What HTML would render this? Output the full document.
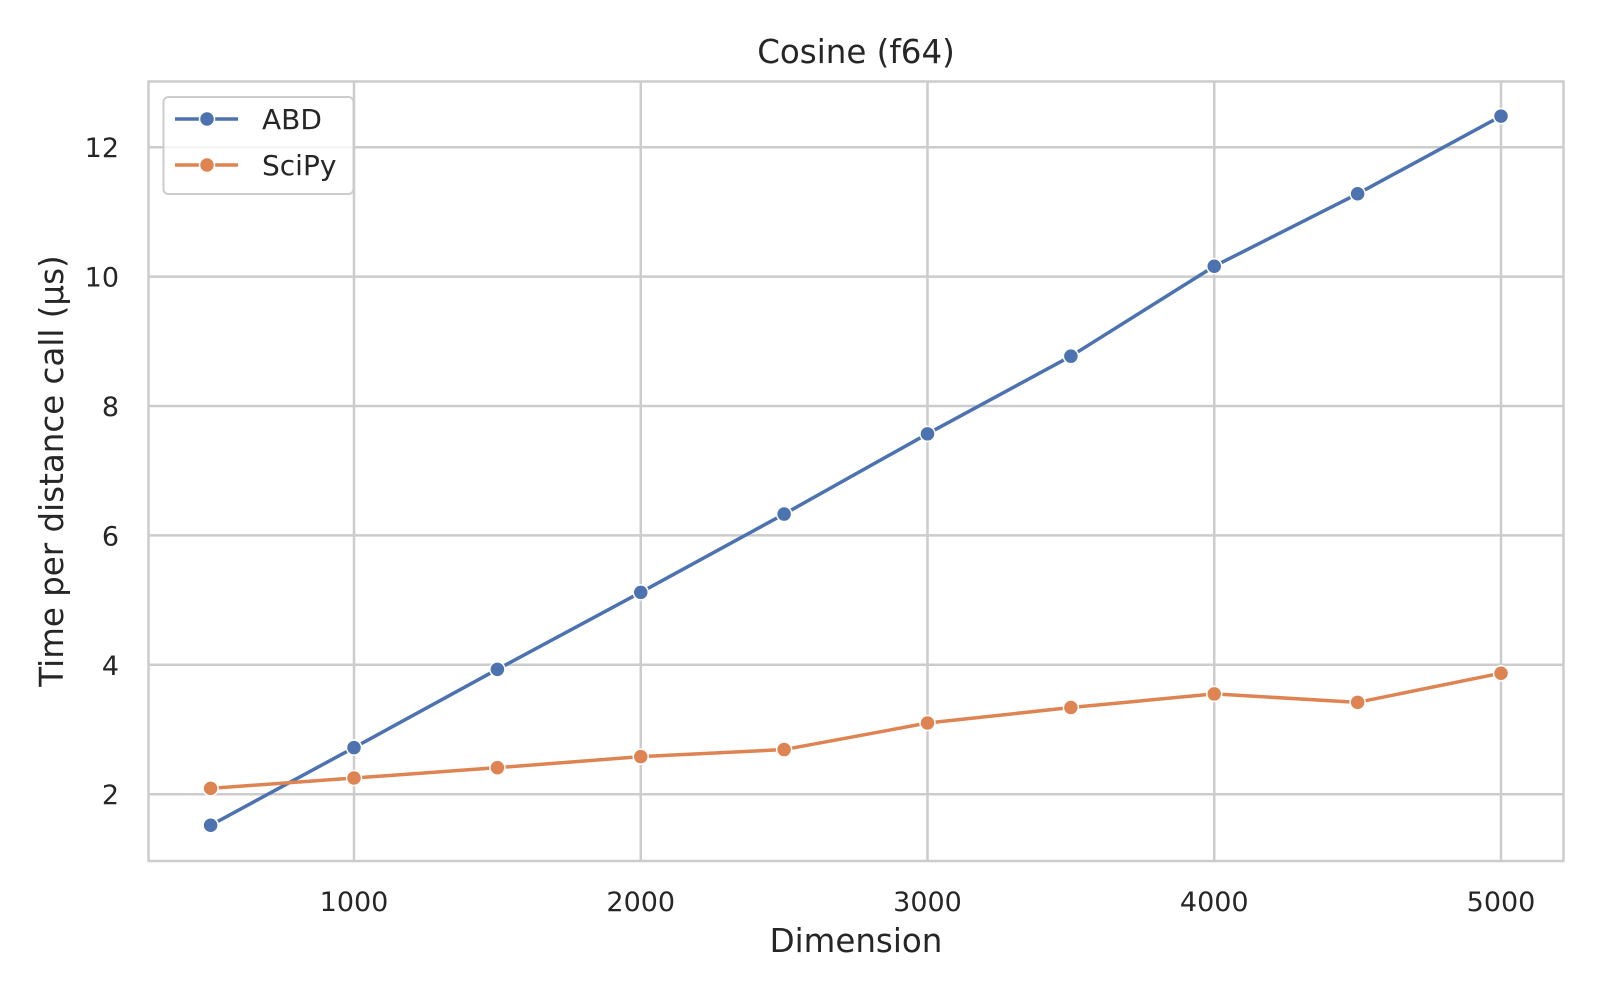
<!DOCTYPE html>
<html><head><meta charset="utf-8"><style>
body{margin:0;background:#fff;}
svg text{font-family:"DejaVu Sans","Liberation Sans",sans-serif;fill:#262626;}
</style></head><body>
<svg id="chart" width="1600" height="1000" viewBox="0 0 1600 1000">
<rect x="148.5" y="81.5" width="1415" height="779.5" fill="#fff" stroke="#cccccc" stroke-width="2.5"/>
<g id="grid"></g>
<g id="ticks"></g>
<g id="series"></g>
<text x="856" y="63" text-anchor="middle" font-size="32.5">Cosine (f64)</text>
<text x="856" y="952" text-anchor="middle" font-size="32.5">Dimension</text>
<text transform="translate(63,471) rotate(-90)" text-anchor="middle" font-size="32.5">Time per distance call (µs)</text>
<g>
<rect x="163.5" y="97" width="190" height="97" rx="5" fill="#fff" fill-opacity="0.8" stroke="#cccccc" stroke-width="2"/>
<g>
<line x1="175" y1="119" x2="238" y2="119" stroke="#4c72b0" stroke-width="3.5"/>
<circle cx="207" cy="119" r="7.5" fill="#4c72b0" stroke="#fff" stroke-width="1.5"/>
<text x="262" y="129" font-size="28">ABD</text></g>
<g>
<line x1="175" y1="165" x2="238" y2="165" stroke="#dd8452" stroke-width="3.5"/>
<circle cx="207" cy="165" r="7.5" fill="#dd8452" stroke="#fff" stroke-width="1.5"/>
<text x="262" y="175" font-size="28">SciPy</text></g>
</g>
</svg>
<script>
const dims=[500,1000,1500,2000,2500,3000,3500,4000,4500,5000];
const abd=[1.52,2.72,3.93,5.12,6.33,7.57,8.77,10.16,11.28,12.48];
const scipy=[2.09,2.25,2.41,2.58,2.69,3.10,3.34,3.55,3.42,3.87];
const xTicks=[1000,2000,3000,4000,5000];
const yTicks=[2,4,6,8,10,12];
const NS='http://www.w3.org/2000/svg';
function xs(v){return 354+(v-1000)*0.28675;}
function ys(v){return 923.6-v*64.7;}
const grid=document.getElementById('grid'),ticks=document.getElementById('ticks'),ser=document.getElementById('series');
function mk(t,a,p){const e=document.createElementNS(NS,t);for(const k in a)e.setAttribute(k,a[k]);p.appendChild(e);return e;}
xTicks.forEach(v=>{
 const l=mk('line',{x1:xs(v),x2:xs(v),y1:81.5,y2:861,stroke:'#cccccc','stroke-width':2.5},grid);
 
 
 const t=mk('text',{x:xs(v),y:911,'text-anchor':'middle','font-size':27},ticks);t.textContent=v;
 
 
});
yTicks.forEach(v=>{
 const l=mk('line',{x1:148.5,x2:1563.5,y1:ys(v),y2:ys(v),stroke:'#cccccc','stroke-width':2.5},grid);
 
 
 const t=mk('text',{x:119,y:ys(v)+10,'text-anchor':'end','font-size':27},ticks);t.textContent=v;
 
 
});
[[abd,'#4c72b0','abd'],[scipy,'#dd8452','scipy']].forEach(([d,c,n])=>{
 const p=mk('polyline',{points:d.map((v,i)=>xs(dims[i])+','+ys(v)).join(' '),fill:'none',stroke:c,'stroke-width':3.5,'stroke-linejoin':'round'},ser);
 
 
 d.forEach((v,i)=>{
  const m=mk('circle',{cx:xs(dims[i]),cy:ys(v),r:7.5,fill:c,stroke:'#fff','stroke-width':1.5},ser);
  
  
 });
});
</script>
</body></html>
